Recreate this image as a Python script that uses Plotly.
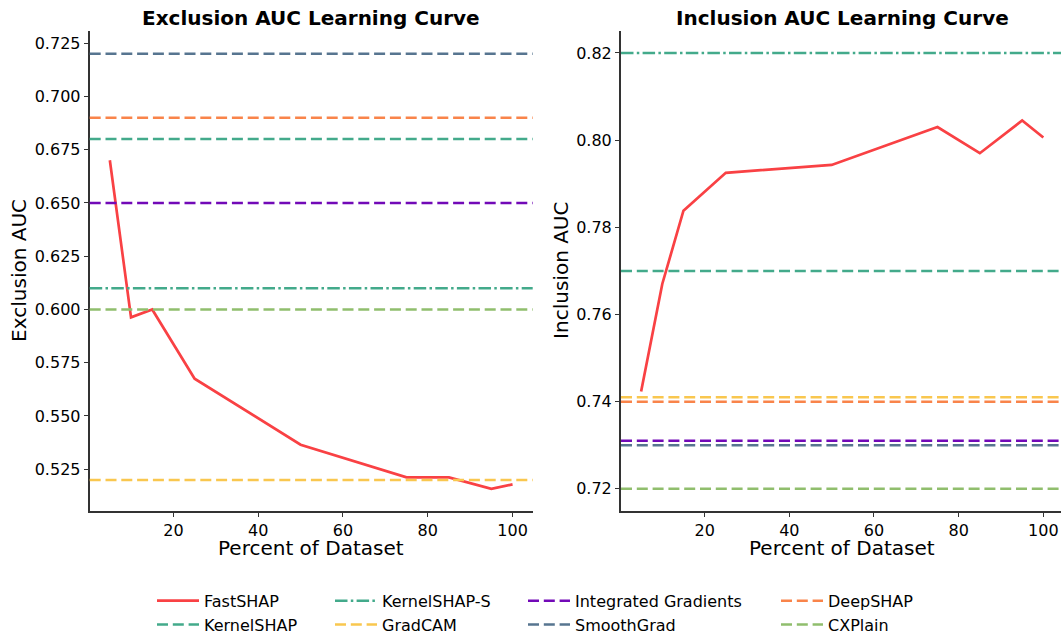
import plotly.graph_objects as go

# ---- data ----
percent = [5, 10, 15, 25, 50, 75, 85, 95, 100]
fastshap_exclusion = [0.670, 0.5963, 0.600, 0.5675, 0.5365, 0.5212, 0.5212, 0.5158, 0.5179]
fastshap_inclusion = [0.7423, 0.767, 0.7838, 0.7925, 0.7943, 0.8030, 0.7970, 0.8045, 0.8006]

methods = ["KernelSHAP", "KernelSHAP-S", "GradCAM", "Integrated Gradients",
           "SmoothGrad", "DeepSHAP", "CXPlain"]
exclusion_baselines = [0.68, 0.61, 0.52, 0.65, 0.72, 0.69, 0.60]
inclusion_baselines = [0.77, 0.82, 0.741, 0.731, 0.73, 0.74, 0.72]

x_ticks = [20, 40, 60, 80, 100]
exclusion_ticks = [0.525, 0.550, 0.575, 0.600, 0.625, 0.650, 0.675, 0.700, 0.725]
inclusion_ticks = [0.72, 0.74, 0.76, 0.78, 0.80, 0.82]

# ---- styles ----
FONT = "DejaVu Sans"
W, H = 1061, 642
DASH = "11px,4.8px"
DASHDOT = "12.5px,3.3px,2.5px,3.3px"
styles = {
    "KernelSHAP": ("#43AA8B", DASH, "legend"),
    "KernelSHAP-S": ("#43AA8B", DASHDOT, "legend2"),
    "GradCAM": ("#F9C74F", DASH, "legend2"),
    "Integrated Gradients": ("#7209B7", DASH, "legend3"),
    "SmoothGrad": ("#577590", DASH, "legend3"),
    "DeepSHAP": ("#F9844A", DASH, "legend4"),
    "CXPlain": ("#90BE6D", DASH, "legend4"),
}
RED = "#F94144"

fig = go.Figure()

fig.add_trace(go.Scatter(x=percent, y=fastshap_exclusion, mode="lines", name="FastSHAP",
                         line=dict(color=RED, width=2.7), xaxis="x", yaxis="y",
                         legend="legend", legendrank=1, showlegend=True))
fig.add_trace(go.Scatter(x=percent, y=fastshap_inclusion, mode="lines", name="FastSHAP",
                         line=dict(color=RED, width=2.7), xaxis="x2", yaxis="y2",
                         showlegend=False))

for i, m in enumerate(methods):
    color, dash, leg = styles[m]
    fig.add_shape(type="line", xref="x domain", yref="y", x0=0, x1=1,
                  y0=exclusion_baselines[i], y1=exclusion_baselines[i],
                  line=dict(color=color, width=2.5, dash=dash),
                  showlegend=True, name=m, legend=leg, legendrank=10 + i)
    fig.add_shape(type="line", xref="x2 domain", yref="y2", x0=0, x1=1,
                  y0=inclusion_baselines[i], y1=inclusion_baselines[i],
                  line=dict(color=color, width=2.5, dash=dash),
                  showlegend=False)

axis_common = dict(showline=True, linecolor="#333333", linewidth=2, ticks="outside",
                   ticklen=4, tickwidth=1.2, tickcolor="#333333", showgrid=False,
                   zeroline=False, tickfont=dict(family=FONT, size=16, color="black"))

ytop, ybot = 31.7, 519.5
ydom = [1 - ybot / H, 1 - ytop / H]
xl0, xl1 = 89.7, 532.7
xr0 = 621.0

fig.update_layout(
    width=W, height=H, margin=dict(l=0, r=0, t=0, b=0),
    paper_bgcolor="white", plot_bgcolor="white",
    font=dict(family=FONT, color="black"),
    xaxis=dict(domain=[xl0 / W, xl1 / W], range=[0.25, 104.75], tickvals=x_ticks,
               anchor="y", **axis_common),
    yaxis=dict(domain=ydom, range=[0.5056, 0.7306], tickvals=exclusion_ticks,
               tickformat=".3f", anchor="x", **axis_common),
    xaxis2=dict(domain=[xr0 / W, 1.0], range=[0.25, 104.17], tickvals=x_ticks,
                anchor="y2", **axis_common),
    yaxis2=dict(domain=ydom, range=[0.715, 0.825], tickvals=inclusion_ticks,
                tickformat=".2f", anchor="x2", **axis_common),
)

legend_common = dict(orientation="v", xanchor="left", yanchor="top", y=1 - 594 / H,
                     bgcolor="rgba(0,0,0,0)", font=dict(family=FONT, size=16, color="black"),
                     tracegroupgap=0, itemwidth=42)
fig.update_layout(
    legend=dict(x=152 / W, **legend_common),
    legend2=dict(x=330 / W, **legend_common),
    legend3=dict(x=523 / W, **legend_common),
    legend4=dict(x=776 / W, **legend_common),
)

# titles and axis labels
cx_left = (xl0 + xl1) / 2 / W
cx_right = (xr0 + 1063.8) / 2 / W
ymid = 1 - (ytop + ybot) / 2 / H
annos = [
    dict(text="Exclusion AUC Learning Curve", x=cx_left, y=1 - 18 / H,
         font=dict(family=FONT, size=20, color="black", weight="bold")),
    dict(text="Inclusion AUC Learning Curve", x=min(cx_right, 0.99), y=1 - 18 / H,
         font=dict(family=FONT, size=20, color="black", weight="bold")),
    dict(text="Percent of Dataset", x=cx_left, y=1 - 558 / H,
         font=dict(family=FONT, size=20, color="black")),
    dict(text="Percent of Dataset", x=min(cx_right, 0.99), y=1 - 558 / H,
         font=dict(family=FONT, size=20, color="black")),
    dict(text="Exclusion AUC", x=19 / W, y=ymid, textangle=-90,
         font=dict(family=FONT, size=20, color="black")),
    dict(text="Inclusion AUC", x=561 / W, y=ymid, textangle=-90,
         font=dict(family=FONT, size=20, color="black")),
]
for a in annos:
    fig.add_annotation(xref="paper", yref="paper", showarrow=False,
                       xanchor="center", yanchor="middle", **a)

post = (
    "var gd=document.getElementById('{plot_id}');"
    "gd.style.position='absolute';gd.style.left='0px';gd.style.top='0px';"
    "document.body.style.margin='0';"
)
fig.write_html("out.html", config={"displayModeBar": False}, post_script=post)
